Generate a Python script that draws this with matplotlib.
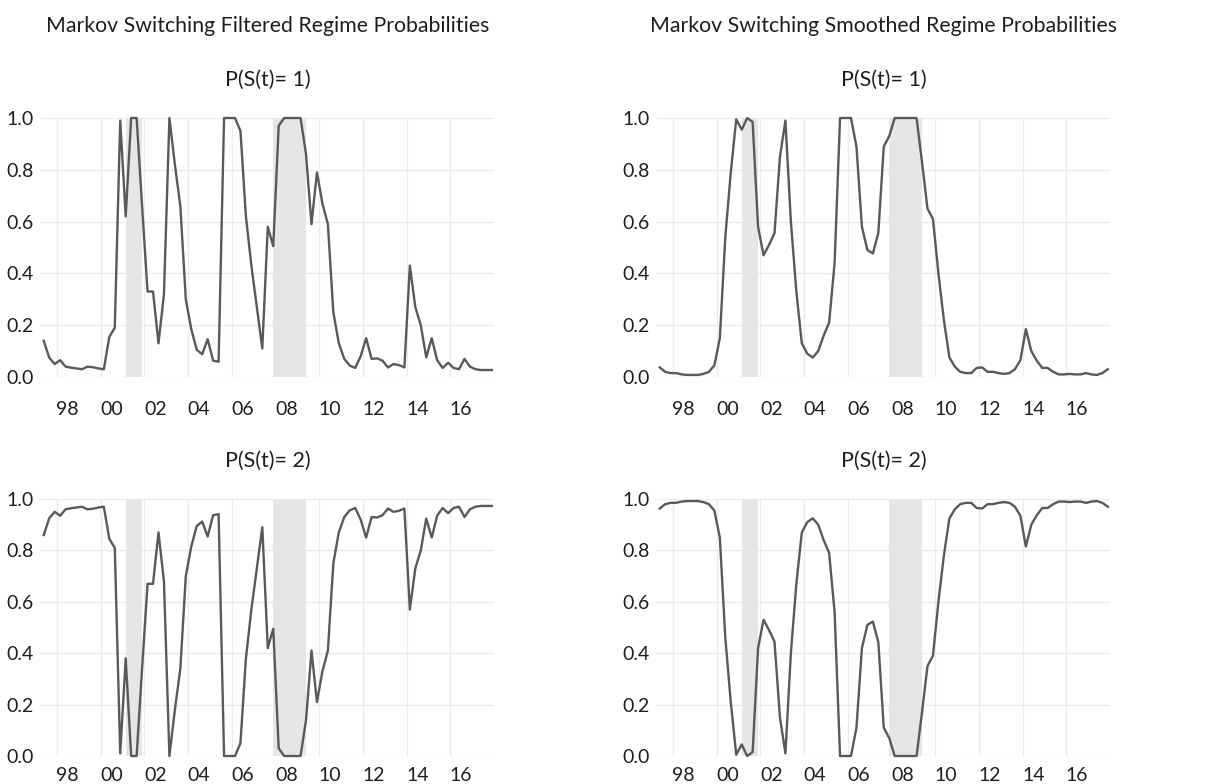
import matplotlib
matplotlib.use("Agg")
import matplotlib.pyplot as plt
import numpy as np

plt.rcParams['font.family'] = ['Lato', 'DejaVu Sans']

# quarterly observations, 1997Q1 onwards
start_year = 1997
n_obs = 83

# Filtered probabilities
filt_p1 = [0.14, 0.075, 0.05, 0.065, 0.04, 0.036, 0.033, 0.03, 0.04, 0.038, 0.033, 0.03,
           0.155, 0.19, 0.99, 0.62, 1.0, 1.0, 0.66, 0.33, 0.33, 0.13, 0.32, 1.0,
           0.82, 0.66, 0.30, 0.185, 0.105, 0.088, 0.146, 0.063, 0.059, 1.0, 1.0, 1.0,
           0.95, 0.62, 0.43, 0.27, 0.11, 0.58, 0.505, 0.97, 1.0, 1.0, 1.0, 1.0,
           0.86, 0.59, 0.79, 0.67, 0.59, 0.25, 0.13, 0.07, 0.044, 0.035, 0.08, 0.15,
           0.07, 0.072, 0.063, 0.037, 0.05, 0.046, 0.037, 0.43, 0.27, 0.2, 0.076, 0.15,
           0.065, 0.035, 0.055, 0.035, 0.03, 0.07, 0.04, 0.03, 0.027, 0.027, 0.027]
filt_p2 = [0.86, 0.925, 0.95, 0.935, 0.96, 0.964, 0.967, 0.97, 0.96, 0.962, 0.967, 0.97,
           0.845, 0.81, 0.01, 0.38, 0.0, 0.0, 0.34, 0.67, 0.67, 0.87, 0.68, 0.0,
           0.18, 0.34, 0.70, 0.815, 0.895, 0.912, 0.854, 0.937, 0.941, 0.0, 0.0, 0.0,
           0.05, 0.38, 0.57, 0.73, 0.89, 0.42, 0.495, 0.03, 0.0, 0.0, 0.0, 0.0,
           0.14, 0.41, 0.21, 0.33, 0.41, 0.75, 0.87, 0.93, 0.956, 0.965, 0.92, 0.85,
           0.93, 0.928, 0.937, 0.963, 0.95, 0.954, 0.963, 0.57, 0.73, 0.80, 0.924, 0.85,
           0.935, 0.965, 0.945, 0.965, 0.97, 0.93, 0.96, 0.97, 0.973, 0.973, 0.973]

# Smoothed probabilities
smth_p1 = [0.037, 0.02, 0.015, 0.015, 0.01, 0.008, 0.008, 0.008, 0.012, 0.02, 0.045, 0.15,
           0.54, 0.79, 0.995, 0.955, 1.0, 0.985, 0.58, 0.47, 0.51, 0.555, 0.85, 0.99,
           0.6, 0.33, 0.13, 0.09, 0.075, 0.10, 0.16, 0.21, 0.44, 1.0, 1.0, 1.0,
           0.89, 0.58, 0.49, 0.477, 0.556, 0.89, 0.93, 1.0, 1.0, 1.0, 1.0, 1.0,
           0.83, 0.65, 0.61, 0.40, 0.22, 0.076, 0.04, 0.02, 0.015, 0.015, 0.035, 0.037,
           0.02, 0.02, 0.015, 0.012, 0.015, 0.03, 0.065, 0.185, 0.10, 0.063, 0.035, 0.035,
           0.02, 0.01, 0.01, 0.012, 0.01, 0.01, 0.015, 0.01, 0.008, 0.015, 0.03]
smth_p2 = [0.963, 0.98, 0.985, 0.985, 0.99, 0.992, 0.992, 0.992, 0.988, 0.98, 0.955, 0.85,
           0.46, 0.21, 0.005, 0.045, 0.0, 0.015, 0.42, 0.53, 0.49, 0.445, 0.15, 0.01,
           0.4, 0.67, 0.87, 0.91, 0.925, 0.9, 0.84, 0.79, 0.56, 0.0, 0.0, 0.0,
           0.11, 0.42, 0.51, 0.523, 0.444, 0.11, 0.07, 0.0, 0.0, 0.0, 0.0, 0.0,
           0.17, 0.35, 0.39, 0.6, 0.78, 0.924, 0.96, 0.98, 0.985, 0.985, 0.965, 0.963,
           0.98, 0.98, 0.985, 0.988, 0.985, 0.97, 0.935, 0.815, 0.9, 0.937, 0.965, 0.965,
           0.98, 0.99, 0.99, 0.988, 0.99, 0.99, 0.985, 0.99, 0.992, 0.985, 0.97]

# recession bands (decimal years)
recessions = [(2000.75, 2001.5), (2007.5, 2009.0)]

tick_years = [1998, 2000, 2002, 2004, 2006, 2008, 2010, 2012, 2014, 2016]
tick_labels = ["98", "00", "02", "04", "06", "08", "10", "12", "14", "16"]
y_ticks = [0.0, 0.2, 0.4, 0.6, 0.8, 1.0]

t = start_year + np.arange(n_obs) / 4.0

line_col = "#595959"
grid_col = "#ececec"
shade_col = "#e6e6e6"
text_col = "#1e1e1e"

fig = plt.figure(figsize=(12.12, 7.84), dpi=100)

W, H = 1212.0, 784.0
col_left = [41, 657]
ax_w = 453
rows = [(118, 377), (499, 756)]
x_pads = [17, 8]

series = [[filt_p1, filt_p2], [smth_p1, smth_p2]]
main_titles = ["Markov Switching Filtered Regime Probabilities",
               "Markov Switching Smoothed Regime Probabilities"]
sub_titles = ["P(S(t)= 1)", "P(S(t)= 2)"]

for c in range(2):
    cx = (col_left[c] + ax_w / 2) / W
    for r in range(2):
        top, bot = rows[r]
        ax = fig.add_axes([col_left[c] / W, 1 - bot / H, ax_w / W, (bot - top) / H])
        for a, b in recessions:
            ax.axvspan(a, b, color=shade_col, lw=0, zorder=1)
        ax.plot(t, series[c][r], color=line_col, lw=1.7, zorder=3, clip_on=False)
        ax.set_xlim(start_year - 0.125, start_year + 20.6)
        ax.set_ylim(0, 1)
        # grid lines sit half a year before the labels
        ax.set_xticks([y - 0.4 for y in tick_years], minor=True)
        ax.set_xticks([y + 0.1 for y in tick_years])
        ax.set_xticklabels(tick_labels)
        ax.set_yticks(y_ticks)
        ax.set_yticklabels(["%.1f" % v for v in y_ticks])
        ax.grid(False)
        ax.grid(True, which="minor", axis="x", color=grid_col, lw=1, zorder=0)
        ax.grid(True, which="major", axis="y", color=grid_col, lw=1, zorder=0)
        ax.set_axisbelow(True)
        for s in ax.spines.values():
            s.set_visible(False)
        ax.tick_params(which="both", length=0, labelsize=14, colors=text_col)
        ax.tick_params(axis="x", pad=x_pads[r])
        ax.tick_params(axis="y", pad=5)
        fig.text(cx, 1 - (top - 38) / H, sub_titles[r], ha="center", va="center",
                 fontsize=15.5, color=text_col)
    fig.text(cx, 1 - 26 / H, main_titles[c], ha="center", va="center",
             fontsize=15.3, color=text_col)

fig.savefig("out.png", dpi=100, facecolor="white")
